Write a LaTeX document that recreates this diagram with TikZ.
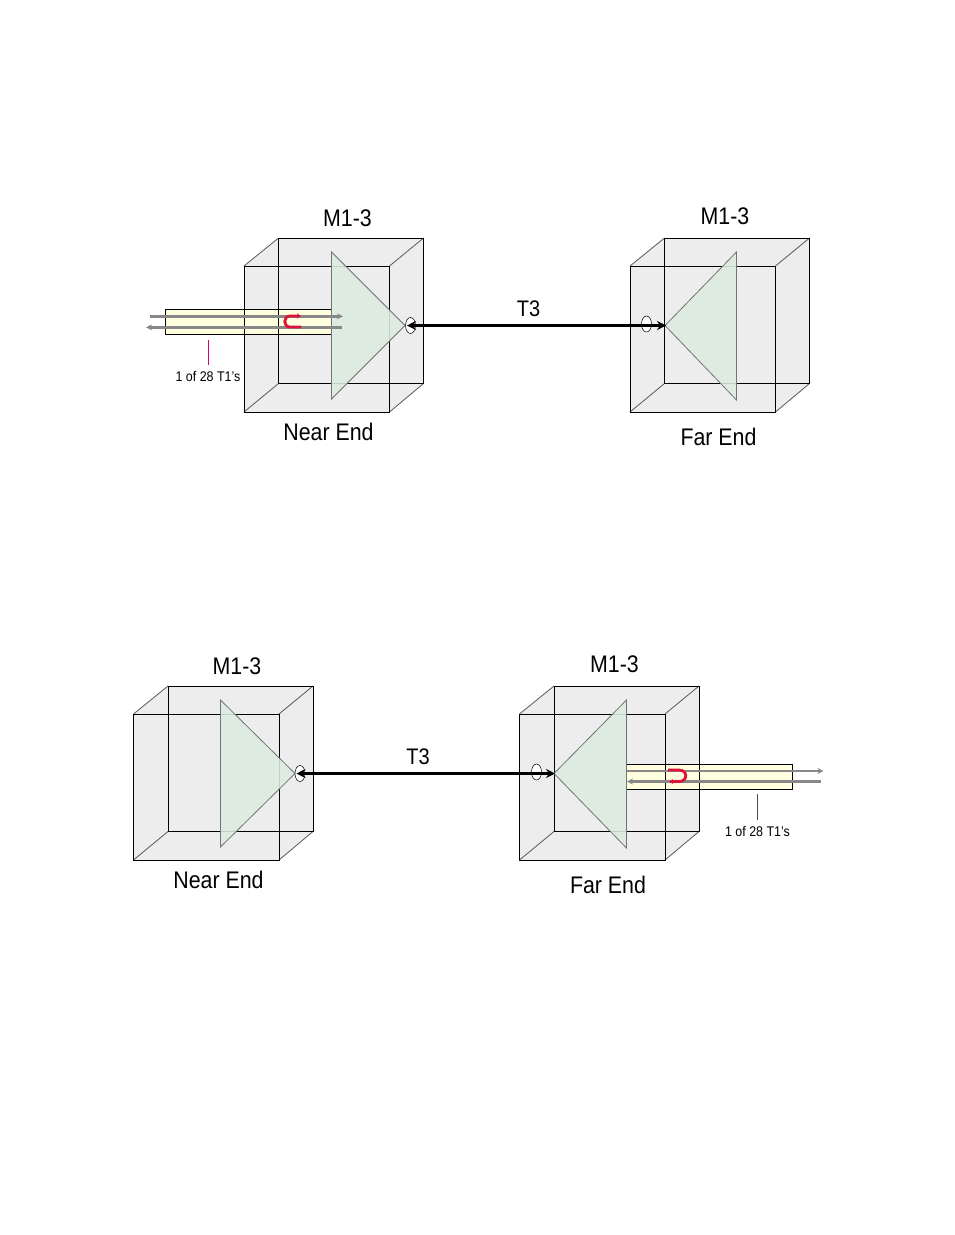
\documentclass[tikz,border=0pt]{standalone}
\usepackage{fontspec}
\setmainfont{Liberation Sans}
\usetikzlibrary{arrows.meta,shapes.geometric}
\definecolor{boxfill}{HTML}{EDEDED}
\definecolor{trifill}{HTML}{DDEBDF}
\definecolor{trunk}{HTML}{FFFFDF}
\definecolor{graya}{HTML}{888888}
\definecolor{redu}{HTML}{E0103A}
\definecolor{pinkl}{HTML}{D6006E}
\tikzset{
 cubefill/.style={fill=boxfill,draw=none},
 cubeline/.style={draw=black,line width=.9pt},
 cubediag/.style={draw=black!65,line width=.8pt},
 tristyle/.style={draw=black!55,line width=.8pt,fill=trifill},
 oval/.style={draw=black,line width=.5pt,fill=white,ellipse,minimum width=10pt,minimum height=16pt,inner sep=0},
 bigtxt/.style={font=\fontsize{24}{26}\selectfont,xscale=.89,inner sep=0},
 smalltxt/.style={font=\fontsize{14}{16}\selectfont,xscale=.89,inner sep=0},
 t3txt/.style={font=\fontsize{22.5}{24}\selectfont,xscale=.89,inner sep=0},
 trunkbox/.style={fill=trunk,draw=black,line width=.9pt},
 t3arrow/.style={draw=black,line width=2.4pt,{Stealth[length=9pt,width=9pt]}-{Stealth[length=9pt,width=9pt]}},
 grayline/.style={draw=graya,line width=3.2pt},
 grayslim/.style={draw=graya,line width=2.4pt},
 loopline/.style={draw=redu,line width=2.8pt},
}
\newcommand{\cubebase}[2]{%
 \begin{scope}[shift={(#1,#2)}]
 \path[cubefill] (0,28)--(34.5,0)--(179.5,0)--(179.5,145.5)--(145.5,174)--(0,174)--cycle;
 \end{scope}}
\newcommand{\cubelines}[2]{%
 \begin{scope}[shift={(#1,#2)}]
 \draw[cubediag] (0,28)--(34.5,0) (145.5,28)--(179.5,0) (0,174)--(34.5,145.5) (145.5,174)--(179.5,145.5);
 \draw[cubeline] (34.5,0) rectangle (179.5,145.5);
 \draw[cubeline] (0,28) rectangle (145.5,174);
 \end{scope}}
\begin{document}
\begin{tikzpicture}[x=1pt,y=-1pt]
\useasboundingbox (0,0) rectangle (954,1235);
\cubebase{244}{238}
\cubebase{630}{238}
\cubebase{133.5}{686}
\cubebase{519.5}{686}
\draw[trunkbox] (165,309) rectangle (331.5,334);
\draw[trunkbox] (626.5,764.5) rectangle (792.5,789.5);
\cubelines{244}{238}
\cubelines{630}{238}
\cubelines{133.5}{686}
\cubelines{519.5}{686}
% triangles
\draw[tristyle,fill opacity=.88] (331.5,252)--(331.5,399)--(405,325.5)--cycle;
\draw[tristyle,fill opacity=.88] (736.5,252)--(736.5,400)--(665,325.5)--cycle;
\draw[tristyle,fill opacity=.88] (220.5,700)--(220.5,847)--(295,773.5)--cycle;
\draw[tristyle,fill opacity=.88] (626.5,700)--(626.5,848)--(554,773.5)--cycle;
% ovals
\node[oval] (o1) at (410.5,325.5) {};
\node[oval] (o2) at (646.5,324) {};
\node[oval] (o3) at (300,773.5) {};
\node[oval] (o4) at (536.5,772) {};
% T3 links
\coordinate (a1) at (407,325.5); \coordinate (b1) at (666,325.5);
\coordinate (a2) at (296.5,773.5); \coordinate (b2) at (555,773.5);
\draw[t3arrow] (a1)--(b1);
\draw[t3arrow] (a2)--(b2);
% gray lines
\draw[grayline,-{Stealth[length=6pt,width=6pt]}] (150,316.3)--(343,316.3);
\draw[grayline,{Stealth[length=6pt,width=6pt]}-] (146,327.3)--(342,327.3);
\draw[grayslim,-{Stealth[length=6pt,width=6pt]}] (627,771)--(823.5,771);
\draw[grayslim,{Stealth[length=6pt,width=6pt]}-] (627,781.5)--(820.5,781.5);
% red loops
\draw[loopline,-{Stealth[length=4pt,width=5pt]}] (301,327)--(290,327) .. controls (283,327) and (283,316) .. (290,316)--(301,316);
\draw[loopline,-{Stealth[length=4pt,width=5pt]}] (668,770)--(679,770) .. controls (688,770) and (688,781.5) .. (679,781.5)--(669,781.5);
% pointers
\coordinate (p1) at (208.5,340); \coordinate (p2) at (208.5,365);
\coordinate (q1) at (757.5,794); \coordinate (q2) at (757.5,820);
\draw[draw=pinkl,line width=1pt] (p1)--(p2);
\draw[draw=black!70,line width=1pt] (q1)--(q2);
% labels
\node[bigtxt] (m1) at (347.5,218) {M1-3};
\node[bigtxt] (m2) at (725,216) {M1-3};
\node[bigtxt] (m3) at (237,666) {M1-3};
\node[bigtxt] (m4) at (614.5,664) {M1-3};
\node[bigtxt] (n1) at (328.5,432) {Near End};
\node[bigtxt] (f1) at (718.5,437) {Far End};
\node[bigtxt] (n2) at (218.5,880) {Near End};
\node[bigtxt] (f2) at (608,885) {Far End};
\node[t3txt] (t1) at (528.5,309) {T3};
\node[t3txt] (t2) at (418,757) {T3};
\node[smalltxt] (s1) at (208,376.5) {1 of 28 T1's};
\node[smalltxt] (s2) at (757.5,831.5) {1 of 28 T1's};
\end{tikzpicture}
\end{document}
